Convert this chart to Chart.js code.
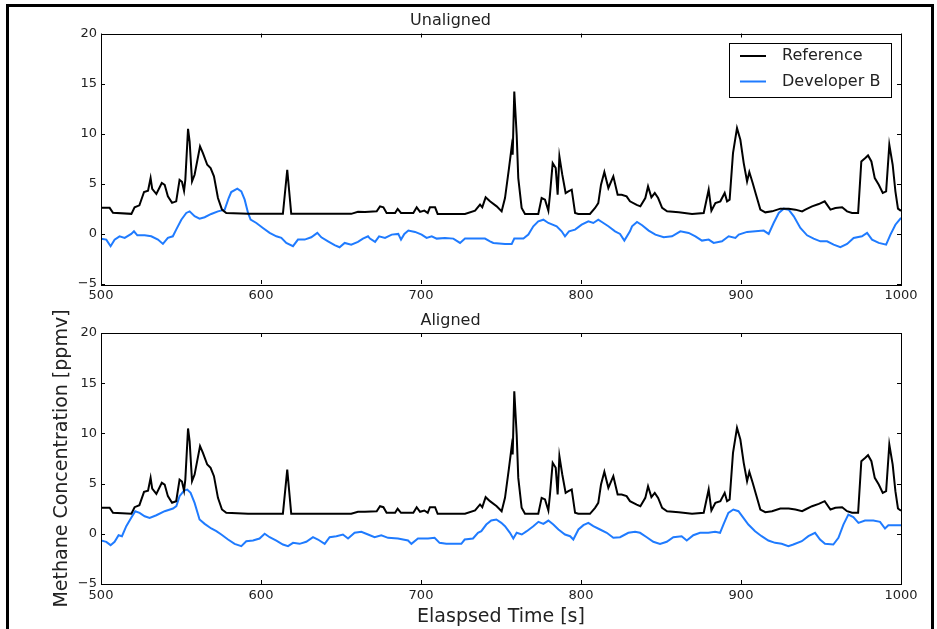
<!DOCTYPE html>
<html>
<head>
<meta charset="utf-8">
<title>Methane Concentration</title>
<script src="https://cdn.jsdelivr.net/npm/chart.js@4.4.1/dist/chart.umd.min.js"></script>
<style>
  html, body { margin: 0; padding: 0; background: #fff; overflow: hidden; }
  #frame {
    position: absolute; left: 6px; top: 4px; width: 922px; height: 640px;
    border-left: 3px solid #000; border-top: 3px solid #000; border-right: 3px solid #000;
  }
  canvas { position: absolute; left: 0; }
  #topChart { top: 0; }
  #bottomChart { top: 305px; }
</style>
</head>
<body>
<div id="frame"></div>
<canvas id="topChart" width="937" height="305"></canvas>
<canvas id="bottomChart" width="937" height="324"></canvas>
<script>
// Reference analyser trace (same in both panels)
var refTime = [500, 505.4, 507.5, 519, 521, 524, 526.9, 529.4, 531, 532, 534.6, 538, 539.8, 541.8, 544.4,
  547, 549.1, 550.6, 551.9, 552.7, 554.4, 555.4, 556.9, 558.5, 561.9, 563.7, 566.4, 568.5, 570.6, 573.1,
  575.6, 578.3, 591.9, 613.7, 616.4, 618.9, 656.4, 660.6, 665, 672.3, 674.4, 676.5, 678.5, 683.8, 685.4,
  687.5, 695.2, 697.3, 699.4, 702.1, 704.2, 705.6, 708.8, 710.4, 727.5, 733.8, 736.9, 738.3, 740.4, 743.1,
  747.3, 750.4, 752.5, 755, 756.7, 757.3, 758.3, 759.8, 760.8, 762.9, 765, 773.3, 775.4, 777.5, 779.6,
  780.6, 782.3, 784.2, 785.4, 786.5, 788.3, 790.4, 792.1, 794.2, 796.3, 798.3, 805.6, 808.8, 810.8, 812.5,
  814.6, 817.1, 820.2, 822.9, 825.4, 828.5, 830.6, 834.8, 837.1, 840.2, 841.9, 844, 846.1, 848.2, 850.7,
  853.8, 861.1, 869.4, 876.7, 879.8, 881.5, 884, 887.1, 889.8, 891.3, 892.9, 895, 897.5, 899.6, 901.7,
  903.8, 905.2, 907.3, 909.4, 912.1, 915.2, 919.4, 924.6, 929.8, 934, 938.2, 940.2, 944.4, 948.6, 952.3,
  955.9, 959, 963.2, 966.3, 969.4, 973.2, 975.2, 977.7, 979.4, 981.5, 983.6, 986.1, 988.6, 990.7, 992.7,
  994.8, 996.5, 998.1, 1000];
var refConc = [2.6, 2.6, 2.1, 2.0, 2.65, 2.85, 4.18, 4.3, 5.57, 4.5, 3.98, 5.08, 4.9, 3.75, 3.1,
  3.25, 5.4, 5.2, 4.3, 5.4, 10.49, 9.2, 5.24, 5.9, 8.73, 8.06, 6.9, 6.57, 5.74, 3.58,
  2.42, 2.09, 2.0, 2.0, 6.4, 2.0, 2.0, 2.2, 2.19, 2.25, 2.75, 2.65, 2.09, 2.09, 2.49,
  2.09, 2.09, 2.65, 2.19, 2.32, 2.09, 2.65, 2.65, 1.99, 1.99, 2.32, 2.92, 2.65, 3.65, 3.25,
  2.75, 2.25, 3.58, 6.57, 8.73, 7.9, 14.2, 9.89, 5.57, 2.59, 1.99, 1.99, 3.58, 3.42, 2.32,
  3.91, 7.07, 6.57, 3.91, 7.73, 5.91, 4.08, 4.25, 4.41, 2.09, 1.99, 1.99, 2.59, 3.08, 4.91,
  6.17, 4.58, 5.74, 3.91, 3.91, 3.75, 3.25, 2.9, 2.75, 3.58, 4.74, 3.65, 4.08, 3.58, 2.59,
  2.25, 2.15, 1.99, 2.09, 4.41, 2.32, 3.08, 3.25, 4.08, 3.25, 3.42, 8.06, 10.55, 9.39, 7.07,
  5.24, 6.17, 5.08, 3.91, 2.42, 2.15, 2.25, 2.52, 2.52, 2.42, 2.25, 2.42, 2.75, 2.98, 3.25,
  2.42, 2.59, 2.65, 2.25, 2.09, 2.09, 7.23, 7.57, 7.83, 7.23, 5.57, 4.91, 4.08, 4.25, 8.89,
  6.9, 4.25, 2.52, 2.3];

// Developer B before time alignment
var devTimeRaw = [500, 503.3, 506, 508.5, 511.6, 514.8, 518.9, 520.6, 522.7, 527.3, 531.4, 535.6, 538.7,
  541.8, 544.9, 547, 550.2, 553.3, 555.4, 558.5, 561.6, 564.8, 568.9, 573.1, 577.3, 579.8, 581.4, 585.2,
  587.7, 589.8, 591.9, 593.5, 597.1, 601.2, 605.4, 609.6, 612.7, 615.8, 620, 623.1, 627.3, 631.4, 635.2,
  637.7, 641.9, 646, 649.1, 652.3, 656.4, 660.6, 663.7, 666.9, 668.1, 671.3, 673.8, 677.5, 681.7, 685.8,
  687.5, 689.6, 692.1, 696.3, 700.4, 703.5, 706.7, 709.8, 715, 720.2, 724.4, 727.5, 733.8, 740, 743.1,
  745.2, 752.5, 756.7, 758.3, 764, 767.1, 770.2, 773.3, 776.5, 779.6, 784.8, 787.9, 790, 792.5, 796.3,
  800.4, 804.6, 807.7, 810.8, 814, 817.1, 821.3, 824.4, 827.1, 830.6, 831.9, 835, 838.2, 842.3, 846.5,
  851.7, 856.9, 862.1, 867.3, 871.5, 875.6, 879.8, 882.9, 888.1, 892.3, 896.5, 898.6, 903.8, 909, 914.2,
  917.3, 920.4, 923.6, 926.7, 929.8, 933, 937.1, 941.3, 945.4, 949.6, 953.8, 957.9, 962.1, 966.3, 970.4,
  975.6, 978.8, 981.9, 986.1, 990.7, 993.4, 996.5, 1000];
var devConcRaw = [-0.47, -0.57, -1.23, -0.57, -0.24, -0.4, 0.0, 0.26, -0.14, -0.14, -0.24, -0.57, -1.0,
  -0.4, -0.24, 0.43, 1.42, 2.09, 2.25, 1.76, 1.52, 1.66, 1.99, 2.25, 2.42, 3.58, 4.18, 4.51,
  4.25, 3.42, 2.09, 1.42, 1.09, 0.59, 0.1, -0.24, -0.4, -0.9, -1.23, -0.57, -0.57, -0.34, 0.1,
  -0.34, -0.74, -1.13, -1.33, -0.9, -1.07, -0.8, -0.47, -0.24, -0.47, -0.8, -0.24, -0.4, -0.07, 0.0,
  -0.57, 0.0, 0.33, 0.2, -0.07, -0.4, -0.24, -0.47, -0.4, -0.47, -0.9, -0.47, -0.47, -0.47, -0.74,
  -0.9, -1.0, -1.0, -0.47, -0.47, -0.07, 0.76, 1.26, 1.42, 1.09, 0.76, 0.26, -0.24, 0.26, 0.43,
  0.92, 1.26, 1.09, 1.42, 1.09, 0.76, 0.26, 0.0, -0.67, 0.26, 0.76, 1.19, 0.86, 0.33, -0.07,
  -0.34, -0.24, 0.26, 0.1, -0.24, -0.67, -0.57, -0.9, -0.74, -0.24, -0.4, -0.07, 0.2, 0.26, 0.33,
  0.0, 1.09, 2.09, 2.52, 2.42, 1.76, 0.59, -0.14, -0.47, -0.74, -0.74, -1.07, -1.33, -1.0, -0.4,
  -0.24, 0.1, -0.57, -0.9, -1.07, -0.07, 0.92, 1.6];

// Developer B after time alignment
var devTimeAligned = [500, 503.3, 506, 508.5, 511, 513.1, 515.8, 518.9, 521.4, 524.1, 527.3, 530.4, 534.6,
  539.8, 545, 547.1, 549.1, 551.9, 553.9, 556, 558.5, 561.6, 564.8, 568.9, 572.1, 575.2, 579.4, 583.5,
  587.7, 590.8, 595, 599.1, 602.3, 605.4, 609.6, 613.7, 616.9, 620, 624.1, 628.3, 632.5, 635.6, 639.8,
  642.9, 647.1, 651.2, 654.4, 658.5, 662.7, 666.9, 671, 675.2, 679.4, 685.6, 691.9, 694, 698.1, 704.4,
  708.5, 711.6, 715.8, 725.2, 727.3, 732.5, 735.6, 737.7, 740.8, 743.9, 747.1, 750.2, 752.5, 755.6, 757.7,
  759.8, 763, 766.1, 770.2, 773.4, 776.5, 779.6, 782.7, 785.9, 790, 793.2, 795.2, 798.4, 801.5, 804.6,
  807.7, 811.9, 816.1, 820.2, 824.4, 829.6, 833.8, 836.9, 841.1, 845.2, 849.4, 853.6, 857.7, 862.9, 866.1,
  870.2, 874.4, 879.6, 883.8, 886.9, 889, 892.1, 895.2, 898.4, 901.5, 904.6, 908.8, 912.9, 917.1, 921.3,
  925.4, 929.6, 932.7, 938, 942.1, 946.3, 949.4, 952.5, 957.7, 960.9, 964, 967.1, 970.2, 973.4, 977.5,
  982.7, 986.9, 990, 992.1, 1000];
var devConcAligned = [-0.67, -0.8, -1.13, -0.8, -0.14, -0.24, 0.76, 1.59, 2.25, 2.09, 1.75, 1.59, 1.85,
  2.25, 2.52, 2.75, 3.75, 4.31, 4.41, 4.08, 3.08, 1.42, 0.99, 0.53, 0.26, -0.07, -0.57, -1.0,
  -1.23, -0.74, -0.67, -0.47, 0.0, -0.34, -0.67, -1.07, -1.23, -0.9, -1.0, -0.8, -0.34, -0.57, -1.0,
  -0.34, -0.24, -0.07, -0.47, 0.1, 0.2, -0.07, -0.34, -0.14, -0.4, -0.47, -0.67, -1.0, -0.47, -0.47,
  -0.4, -0.9, -1.0, -1.0, -0.57, -0.47, 0.1, 0.26, 0.92, 1.32, 1.42, 1.09, 0.76, 0.1, -0.47,
  0.1, -0.07, 0.26, 0.76, 1.19, 0.99, 1.32, 0.92, 0.43, -0.07, -0.24, -0.57, 0.43, 0.86, 1.09,
  0.76, 0.43, 0.1, -0.4, -0.34, 0.1, 0.2, 0.1, -0.34, -0.8, -1.0, -0.8, -0.34, -0.24, -0.67,
  -0.14, 0.1, 0.1, 0.2, 0.1, 0.92, 2.09, 2.42, 2.25, 1.59, 0.92, 0.26, -0.24, -0.67, -0.9,
  -1.0, -1.23, -1.07, -0.74, -0.24, 0.1, -0.57, -1.0, -1.07, -0.4, 0.92, 1.92, 1.66, 1.09, 1.32,
  1.32, 1.19, 0.53, 0.86, 0.86];

var xTicks = [500, 600, 700, 800, 900, 1000];
var yTicks = [-5, 0, 5, 10, 15, 20];

var seriesNames = ["Reference", "Developer B"];
var seriesColors = ["#000000", "#1f7bff"];

function toPoints(times, values) {
  return times.map(function (t, i) {
    return { x: t, y: values[i] };
  });
}

Chart.defaults.font.family = "'DejaVu Sans', sans-serif";
Chart.defaults.color = "#222";

// box around the plot with inward ticks on every side (old matplotlib look)
var frameTicks = {
  id: "frameTicks",
  afterDatasetsDraw: function (chart) {
    var ctx = chart.ctx;
    var a = chart.chartArea;
    var xs = chart.scales.x;
    var ys = chart.scales.y;
    var len = 4;
    ctx.save();
    ctx.strokeStyle = "#000";
    ctx.lineWidth = 1;
    ctx.beginPath();
    xs.ticks.forEach(function (t) {
      var px = Math.round(xs.getPixelForValue(t.value)) + 0.5;
      ctx.moveTo(px, a.bottom); ctx.lineTo(px, a.bottom - len);
      ctx.moveTo(px, a.top); ctx.lineTo(px, a.top + len);
    });
    ys.ticks.forEach(function (t) {
      var py = Math.round(ys.getPixelForValue(t.value)) + 0.5;
      ctx.moveTo(a.left, py); ctx.lineTo(a.left + len, py);
      ctx.moveTo(a.right, py); ctx.lineTo(a.right - len, py);
    });
    ctx.stroke();
    ctx.strokeRect(Math.round(a.left) + 0.5, Math.round(a.top) + 0.5,
      Math.round(a.right - a.left), Math.round(a.bottom - a.top));
    ctx.restore();
  }
};

// framed legend in the upper right corner of the plot
var boxLegend = {
  id: "boxLegend",
  afterDraw: function (chart, args, opts) {
    if (!opts.show) return;
    var ctx = chart.ctx;
    var a = chart.chartArea;
    var w = 162, h = 54;
    var bx = Math.round(a.right - 10 - w), by = Math.round(a.top + 9);
    ctx.save();
    ctx.fillStyle = "#fff";
    ctx.fillRect(bx, by, w, h);
    ctx.strokeStyle = "#000";
    ctx.lineWidth = 1;
    ctx.strokeRect(bx + 0.5, by + 0.5, w, h);
    ctx.font = "16px 'DejaVu Sans'";
    ctx.textBaseline = "middle";
    chart.data.datasets.forEach(function (ds, i) {
      var yy = by + 13 + i * 25.5;
      ctx.strokeStyle = ds.borderColor;
      ctx.lineWidth = 2;
      ctx.beginPath();
      ctx.moveTo(bx + 11, yy);
      ctx.lineTo(bx + 37, yy);
      ctx.stroke();
      ctx.fillStyle = "#222";
      ctx.fillText(ds.label, bx + 53, yy);
    });
    ctx.restore();
  }
};

function makeChart(id, title, devTimes, devValues, opt) {
  return new Chart(id, {
    type: "line",
    data: {
      datasets: [
        {
          label: seriesNames[0],
          data: toPoints(refTime, refConc),
          borderColor: seriesColors[0],
          borderWidth: 2,
          pointRadius: 0,
          tension: 0,
        },
        {
          label: seriesNames[1],
          data: toPoints(devTimes, devValues),
          borderColor: seriesColors[1],
          borderWidth: 2,
          pointRadius: 0,
          tension: 0,
        },
      ],
    },
    options: {
      responsive: false,
      animation: false,
      events: [],
      layout: { padding: { left: 0, right: 36, top: 0, bottom: 0 } },
      plugins: {
        legend: { display: false },
        tooltip: { enabled: false },
        title: {
          display: true,
          text: title,
          color: "#222",
          font: { size: 16, weight: "normal" },
          padding: opt.titlePadding,
        },
        boxLegend: { show: opt.legend },
      },
      scales: {
        x: {
          type: "linear",
          min: 500,
          max: 1000,
          afterBuildTicks: function (scale) {
            scale.ticks = xTicks.map(function (v) { return { value: v }; });
          },
          afterFit: function (scale) {
            scale.height = opt.xHeight;
          },
          grid: { display: false, drawTicks: false },
          border: { display: false },
          ticks: {
            autoSkip: false,
            maxRotation: 0,
            padding: 4,
            font: { size: 13 },
            callback: function (v) {
              return String(v);
            },
          },
          title: {
            display: opt.xTitle,
            text: "Elaspsed Time [s]",
            color: "#222",
            font: { size: 19 },
            padding: { top: 0, bottom: 1 },
          },
        },
        y: {
          min: -5,
          max: 20,
          afterBuildTicks: function (scale) {
            scale.ticks = yTicks.map(function (v) { return { value: v }; });
          },
          afterFit: function (scale) {
            scale.width = 101;
          },
          grid: { display: false, drawTicks: false },
          border: { display: false },
          ticks: {
            padding: 4,
            font: { size: 13 },
            callback: function (v) {
              return v < 0 ? "\u2212" + Math.abs(v) : String(v);
            },
          },
          title: {
            display: opt.yTitle,
            text: "Methane Concentration [ppmv]",
            color: "#222",
            font: { size: 19 },
            padding: { top: 50.6, bottom: 0 },
          },
        },
      },
    },
    plugins: [frameTicks, boxLegend],
  });
}

makeChart("topChart", "Unaligned", devTimeRaw, devConcRaw, {
  titlePadding: { top: 11, bottom: 3.3 },
  xHeight: 21,
  xTitle: false,
  yTitle: false,
  legend: true,
});

makeChart("bottomChart", "Aligned", devTimeAligned, devConcAligned, {
  titlePadding: { top: 6.5, bottom: 2.3 },
  xHeight: 45,
  xTitle: true,
  yTitle: true,
  legend: false,
});
</script>
</body>
</html>
